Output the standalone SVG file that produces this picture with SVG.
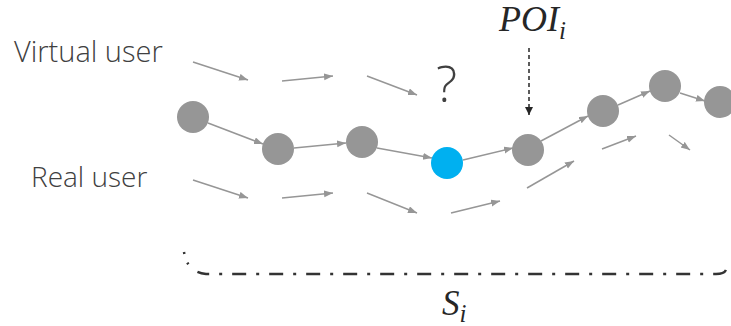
<svg xmlns="http://www.w3.org/2000/svg" width="731" height="326" viewBox="0 0 731 326">
<style>
.lbl{font-family:"Open Sans","Liberation Sans",sans-serif;font-weight:300;fill:#404040}
.math{font-family:"Liberation Serif","DejaVu Serif",serif;font-style:italic;fill:#262626}
.node{fill:#969696}
.blue{fill:#00b0f0}
.e{stroke:#969696;stroke-width:1.5;fill:none;marker-end:url(#ag)}
</style>
<defs>
<marker id="ag" markerUnits="userSpaceOnUse" markerWidth="10" markerHeight="8" refX="9" refY="3.5" orient="auto">
<path d="M0,0 L9,3.5 L0,7 z" fill="#969696"/>
</marker>
<marker id="ab" markerUnits="userSpaceOnUse" markerWidth="10" markerHeight="10" refX="4" refY="8" orient="0">
<path d="M0,0 L8,0 L4,8 z" fill="#262626"/>
</marker>
</defs>
<rect width="731" height="326" fill="#ffffff"/>
<text class="lbl" x="14" y="62" font-size="29">Virtual user</text>
<text class="lbl" x="31" y="187" font-size="28">Real user</text>
<text class="lbl" x="436" y="102" font-size="50">?</text>
<text class="math" x="499" y="31" font-size="36">POI<tspan font-size="25" dy="8">i</tspan></text>
<text class="math" x="442" y="315" font-size="35">S<tspan font-size="25" dy="7">i</tspan></text>
<g id="connectors">
<line class="e" x1="193" y1="62" x2="248" y2="80"/>
<line class="e" x1="282" y1="81" x2="333" y2="76"/>
<line class="e" x1="367" y1="76" x2="417" y2="95"/>
<line class="e" x1="193" y1="180" x2="248" y2="198"/>
<line class="e" x1="282" y1="198" x2="333" y2="193"/>
<line class="e" x1="367" y1="193" x2="417" y2="213"/>
<line class="e" x1="451" y1="213" x2="500" y2="201"/>
<line class="e" x1="527" y1="188" x2="574" y2="161"/>
<line class="e" x1="602" y1="149" x2="636" y2="136"/>
<line class="e" x1="669" y1="135" x2="690" y2="150"/>
<line class="e" x1="208" y1="123" x2="263" y2="144"/>
<line class="e" x1="294" y1="148" x2="346" y2="143"/>
<line class="e" x1="377" y1="148" x2="432" y2="158"/>
<line class="e" x1="463" y1="160" x2="513" y2="148"/>
<line class="e" x1="541" y1="141" x2="588" y2="116"/>
<line class="e" x1="618" y1="105" x2="650" y2="91"/>
<line class="e" x1="680" y1="93" x2="705" y2="101"/>
<line x1="529" y1="48" x2="529" y2="115" stroke="#262626" stroke-width="1.5" stroke-dasharray="4 3" marker-end="url(#ab)"/>
<path d="M184,252 Q187,272 206,274 L716,274 Q724,274 726,270" fill="none" stroke="#333333" stroke-width="2.5" stroke-dasharray="2 9 2 12 12 10 3 10 14 10 3 10 14 10 3 10 14 10 3 10 14 10 3 10 14 10 3 10 14 10 3 10 14 10 3 10 14 10 3 10 14 10 3 10 14 10 3 10 14 10 3 10 14 10 3 10 14 10 3 10 14 10 3 10 14 10 3 10 14 10 3 10 14 10 3 10 14 10 3 10 14 10 3 10 14 10 3 10 14 10 3 10 14 10 3 10 14 10 3 10 14 10 3 7 3 20"/>
</g>
<g id="n1"><circle class="node" cx="193" cy="117" r="16"/></g>
<g id="n2"><circle class="node" cx="278" cy="149" r="16"/></g>
<g id="n3"><circle class="node" cx="362" cy="142" r="16"/></g>
<g id="n4"><circle class="blue" cx="447" cy="163" r="16"/></g>
<g id="n5"><circle class="node" cx="528" cy="150" r="16"/></g>
<g id="n6"><circle class="node" cx="603" cy="111" r="16"/></g>
<g id="n7"><circle class="node" cx="665" cy="86" r="16"/></g>
<g id="n8"><circle class="node" cx="720" cy="102" r="16"/></g>
</svg>
